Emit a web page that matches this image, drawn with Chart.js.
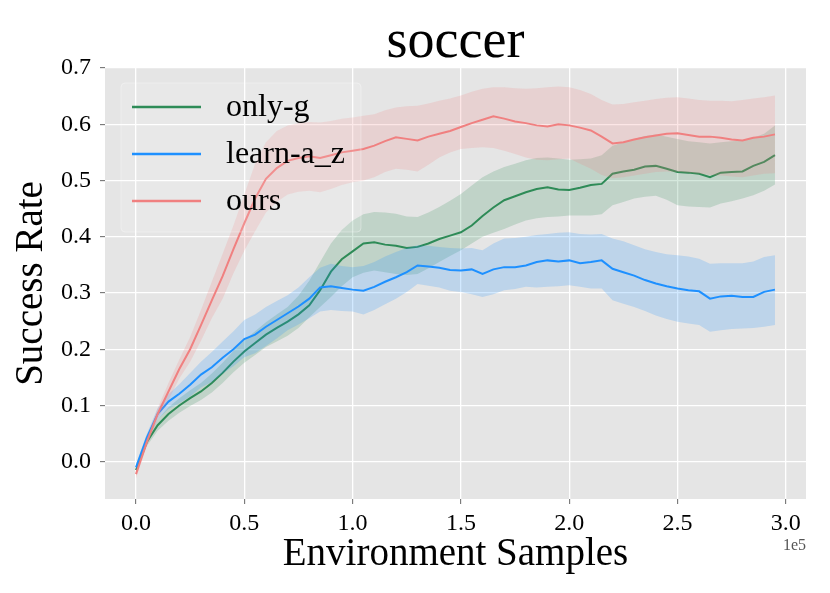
<!DOCTYPE html>
<html>
<head>
<meta charset="utf-8">
<title>soccer</title>
<script src="https://cdn.jsdelivr.net/npm/chart.js@4.4.1/dist/chart.umd.min.js"></script>
<style>
  html, body { margin: 0; padding: 0; background: #fff; }
  #wrap { width: 830px; height: 593px; position: relative; }
</style>
</head>
<body>
<div id="wrap"><canvas id="chart"></canvas></div>
<script>
// environment samples (x)
const samples = [
  0, 5000, 10000, 15000, 20000, 25000, 30000, 35000, 40000, 45000,
  50000, 55000, 60000, 65000, 70000, 75000, 80000, 85000, 90000, 95000,
  100000, 105000, 110000, 115000, 120000, 125000, 130000, 135000, 140000, 145000,
  150000, 155000, 160000, 165000, 170000, 175000, 180000, 185000, 190000, 195000,
  200000, 205000, 210000, 215000, 220000, 225000, 230000, 235000, 240000, 245000,
  250000, 255000, 260000, 265000, 270000, 275000, 280000, 285000, 290000, 295000
];

// only-g
const onlyG = [
  -0.015, 0.035, 0.065, 0.085, 0.100, 0.113, 0.125, 0.140, 0.158, 0.178,
  0.196, 0.211, 0.226, 0.238, 0.249, 0.262, 0.278, 0.305, 0.338, 0.360,
  0.374, 0.388, 0.390, 0.386, 0.384, 0.380, 0.382, 0.388, 0.396, 0.402,
  0.408, 0.420, 0.437, 0.452, 0.465, 0.472, 0.479, 0.485, 0.488, 0.484,
  0.483, 0.487, 0.492, 0.494, 0.512, 0.516, 0.519, 0.525, 0.526, 0.521,
  0.515, 0.514, 0.512, 0.506, 0.514, 0.515, 0.516, 0.526, 0.533, 0.545
];
const onlyGHigh = [
  -0.010, 0.042, 0.075, 0.097, 0.113, 0.127, 0.140, 0.157, 0.176, 0.197,
  0.216, 0.232, 0.248, 0.262, 0.275, 0.295, 0.322, 0.355, 0.388, 0.412,
  0.429, 0.440, 0.444, 0.443, 0.441, 0.436, 0.435, 0.443, 0.453, 0.464,
  0.476, 0.491, 0.506, 0.516, 0.524, 0.530, 0.536, 0.540, 0.541, 0.539,
  0.537, 0.538, 0.539, 0.545, 0.562, 0.568, 0.574, 0.579, 0.582, 0.578,
  0.574, 0.570, 0.568, 0.566, 0.568, 0.570, 0.571, 0.576, 0.583, 0.598
];
const onlyGLow = [
  -0.020, 0.028, 0.055, 0.073, 0.087, 0.099, 0.110, 0.123, 0.140, 0.159,
  0.176, 0.190, 0.204, 0.214, 0.224, 0.238, 0.257, 0.275, 0.293, 0.312,
  0.328, 0.336, 0.340, 0.337, 0.334, 0.332, 0.334, 0.344, 0.355, 0.366,
  0.376, 0.388, 0.400, 0.407, 0.414, 0.422, 0.429, 0.433, 0.435, 0.436,
  0.438, 0.438, 0.438, 0.440, 0.456, 0.462, 0.468, 0.471, 0.473, 0.466,
  0.456, 0.454, 0.453, 0.452, 0.459, 0.463, 0.468, 0.474, 0.482, 0.493
];

// learn-a_z
const learnAz = [
  -0.010, 0.043, 0.085, 0.107, 0.121, 0.137, 0.155, 0.168, 0.185, 0.200,
  0.218, 0.226, 0.240, 0.252, 0.264, 0.276, 0.290, 0.310, 0.312, 0.309,
  0.306, 0.304, 0.311, 0.320, 0.328, 0.337, 0.349, 0.347, 0.345, 0.341,
  0.340, 0.342, 0.334, 0.342, 0.346, 0.346, 0.349, 0.355, 0.358, 0.356,
  0.358, 0.353, 0.355, 0.358, 0.343, 0.337, 0.331, 0.323, 0.317, 0.312,
  0.308, 0.305, 0.303, 0.290, 0.294, 0.295, 0.293, 0.293, 0.302, 0.306
];
const learnAzHigh = [
  -0.004, 0.050, 0.095, 0.120, 0.138, 0.158, 0.178, 0.195, 0.214, 0.232,
  0.252, 0.262, 0.275, 0.286, 0.296, 0.310, 0.328, 0.345, 0.352, 0.348,
  0.346, 0.348, 0.355, 0.365, 0.373, 0.380, 0.385, 0.384, 0.382, 0.380,
  0.379, 0.380, 0.376, 0.388, 0.397, 0.398, 0.400, 0.403, 0.405, 0.407,
  0.408, 0.405, 0.404, 0.405, 0.397, 0.392, 0.385, 0.378, 0.373, 0.369,
  0.367, 0.365, 0.361, 0.352, 0.353, 0.353, 0.353, 0.356, 0.364, 0.367
];
const learnAzLow = [
  -0.016, 0.036, 0.075, 0.094, 0.104, 0.116, 0.132, 0.142, 0.157, 0.170,
  0.186, 0.193, 0.206, 0.219, 0.234, 0.244, 0.255, 0.267, 0.270, 0.268,
  0.267, 0.262, 0.270, 0.280, 0.290, 0.302, 0.316, 0.313, 0.310, 0.304,
  0.302, 0.298, 0.293, 0.298, 0.305, 0.307, 0.311, 0.310, 0.311, 0.312,
  0.314, 0.311, 0.308, 0.308, 0.287, 0.281, 0.275, 0.268, 0.260, 0.254,
  0.249, 0.246, 0.243, 0.231, 0.234, 0.236, 0.237, 0.238, 0.240, 0.243
];

// ours
const ours = [
  -0.022, 0.035, 0.085, 0.125, 0.165, 0.200, 0.243, 0.287, 0.330, 0.378,
  0.424, 0.468, 0.503, 0.522, 0.535, 0.540, 0.543, 0.540, 0.545, 0.550,
  0.553, 0.556, 0.562, 0.570, 0.577, 0.574, 0.571, 0.578, 0.583, 0.588,
  0.595, 0.602, 0.608, 0.614, 0.610, 0.605, 0.602, 0.598, 0.596, 0.600,
  0.598, 0.594, 0.589, 0.578, 0.566, 0.568, 0.573, 0.577, 0.580, 0.583,
  0.584, 0.581, 0.578, 0.578, 0.576, 0.573, 0.571, 0.576, 0.578, 0.582
];
const oursHigh = [
  -0.015, 0.042, 0.095, 0.140, 0.182, 0.222, 0.270, 0.320, 0.370, 0.420,
  0.475, 0.530, 0.568, 0.588, 0.598, 0.602, 0.604, 0.603, 0.606, 0.610,
  0.612, 0.615, 0.618, 0.625, 0.630, 0.632, 0.633, 0.637, 0.642, 0.646,
  0.651, 0.658, 0.663, 0.666, 0.666, 0.664, 0.663, 0.664, 0.666, 0.667,
  0.666, 0.661, 0.654, 0.643, 0.635, 0.636, 0.639, 0.642, 0.645, 0.647,
  0.648, 0.646, 0.643, 0.642, 0.642, 0.641, 0.643, 0.646, 0.648, 0.651
];
const oursLow = [
  -0.030, 0.028, 0.076, 0.110, 0.148, 0.178, 0.215, 0.255, 0.290, 0.335,
  0.375, 0.410, 0.443, 0.462, 0.475, 0.480, 0.482, 0.479, 0.485, 0.492,
  0.497, 0.500, 0.506, 0.515, 0.521, 0.519, 0.516, 0.528, 0.541, 0.550,
  0.556, 0.558, 0.559, 0.558, 0.553, 0.547, 0.541, 0.537, 0.536, 0.538,
  0.539, 0.530, 0.521, 0.510, 0.504, 0.506, 0.509, 0.512, 0.515, 0.516,
  0.515, 0.514, 0.512, 0.510, 0.509, 0.507, 0.506, 0.509, 0.512, 0.513
];

const seriesNames = ['only-g', 'learn-a_z', 'ours'];
const xTicks = [0, 50000, 100000, 150000, 200000, 250000, 300000];
const yTicks = [0.0, 0.1, 0.2, 0.3, 0.4, 0.5, 0.6, 0.7];

const colors = ['#2e8b57', '#1e90ff', '#f08080'];
const bandColors = ['rgba(46,139,87,0.2)', 'rgba(30,144,255,0.2)', 'rgba(240,128,128,0.2)'];
const serif = "'Liberation Serif', 'DejaVu Serif', serif";

function pts(ys) {
  return samples.map((x, i) => ({ x: x, y: ys[i] }));
}

// band (upper filled down to lower) + mean line for one series
function series(k, mean, hi, lo, order) {
  return [
    { label: seriesNames[k] + ' hi', data: pts(hi), borderWidth: 0, pointRadius: 0,
      backgroundColor: bandColors[k], fill: '+1', order: order + 1 },
    { label: seriesNames[k] + ' lo', data: pts(lo), borderWidth: 0, pointRadius: 0,
      fill: false, order: order + 1 },
    { label: seriesNames[k], data: pts(mean), borderColor: colors[k], borderWidth: 2,
      pointRadius: 0, fill: false, tension: 0, order: order }
  ];
}

const decor = {
  id: 'decor',
  beforeDraw(chart) {
    const { ctx, chartArea: a } = chart;
    ctx.save();
    ctx.fillStyle = '#e5e5e5';
    ctx.fillRect(a.left, a.top, a.right - a.left, a.bottom - a.top);
    ctx.restore();
  },
  afterDraw(chart) {
    const { ctx, chartArea: a } = chart;
    ctx.save();
    // title
    ctx.fillStyle = '#000';
    ctx.font = '54px ' + serif;
    ctx.textAlign = 'center';
    ctx.textBaseline = 'alphabetic';
    ctx.fillText('soccer', (a.left + a.right) / 2, 57);

    // offset text
    ctx.fillStyle = '#555';
    ctx.font = '16px ' + serif;
    ctx.textAlign = 'right';
    ctx.textBaseline = 'middle';
    ctx.fillText('1e5', a.right, 546);

    // legend
    const bx = 121, by = 83, bw = 240, bh = 149;
    ctx.beginPath();
    ctx.roundRect(bx, by, bw, bh, 4);
    ctx.fillStyle = 'rgba(255,255,255,0.12)';
    ctx.fill();
    ctx.strokeStyle = 'rgba(255,255,255,0.3)';
    ctx.lineWidth = 1;
    ctx.stroke();
    ctx.font = '32px ' + serif;
    ctx.textAlign = 'left';
    ctx.textBaseline = 'middle';
    seriesNames.forEach((name, i) => {
      const y = 107 + i * 47;
      ctx.beginPath();
      ctx.moveTo(132, y);
      ctx.lineTo(201, y);
      ctx.strokeStyle = colors[i];
      ctx.lineWidth = 2.5;
      ctx.stroke();
      ctx.fillStyle = '#000';
      ctx.fillText(name, 226, y + 1);
    });
    ctx.restore();
  }
};

new Chart(document.getElementById('chart').getContext('2d'), {
  type: 'line',
  data: {
    datasets: [].concat(
      series(0, onlyG, onlyGHigh, onlyGLow, 4),
      series(1, learnAz, learnAzHigh, learnAzLow, 2),
      series(2, ours, oursHigh, oursLow, 0)
    )
  },
  options: {
    responsive: true,
    maintainAspectRatio: false,
    animation: false,
    layout: { padding: { top: 68, right: 24, bottom: 0, left: 0 } },
    plugins: {
      legend: { display: false },
      title: { display: false },
      tooltip: { enabled: false }
    },
    scales: {
      x: {
        type: 'linear',
        min: -14310,
        max: 309330,
        afterBuildTicks: s => { s.ticks = xTicks.map(v => ({ value: v })); },
        afterFit: s => { s.height = 94; },
        ticks: {
          callback: v => (v / 1e5).toFixed(1),
          font: { family: serif, size: 24 },
          color: '#000',
          padding: 5,
          maxRotation: 0,
          autoSkip: false
        },
        grid: { color: '#ffffff', lineWidth: 1.3, tickLength: 5, tickColor: '#666', tickWidth: 1 },
        border: { display: false },
        title: {
          display: true,
          text: 'Environment Samples',
          font: { family: serif, size: 39 },
          color: '#000',
          padding: { top: 0, bottom: 15 }
        }
      },
      y: {
        min: -0.0662,
        max: 0.7,
        afterBuildTicks: s => { s.ticks = yTicks.map(v => ({ value: v })); },
        afterFit: s => { s.width = 105; },
        ticks: {
          callback: v => v.toFixed(1),
          font: { family: serif, size: 24 },
          color: '#000',
          padding: 9,
          autoSkip: false
        },
        grid: { color: '#ffffff', lineWidth: 1.3, tickLength: 5, tickColor: '#666', tickWidth: 1 },
        border: { display: false },
        title: {
          display: true,
          text: 'Success Rate',
          font: { family: serif, size: 39 },
          color: '#000',
          padding: { top: 8, bottom: 0 }
        }
      }
    }
  },
  plugins: [decor]
});
</script>
</body>
</html>
